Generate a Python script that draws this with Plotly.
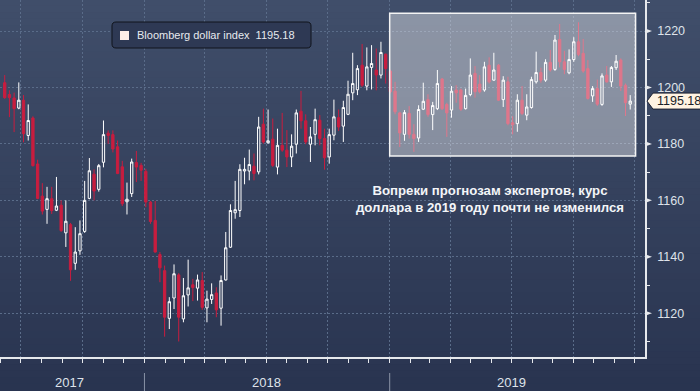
import plotly.graph_objects as go
import pandas as pd

# ---------------- data ----------------
FIRST_WEEK = "2017-06-07"
OPEN = [1201.7, 1197.5, 1196.3, 1192.7, 1195.5, 1183.0, 1189.2, 1172.9, 1161.5, 1156.8,
        1160.6, 1156.5, 1158.3, 1148.5, 1151.4, 1137.7, 1142.1, 1149.0, 1160.7, 1169.3,
        1163.9, 1173.5, 1183.8, 1183.3, 1179.0, 1171.9, 1159.5, 1162.4, 1173.4, 1172.4,
        1170.3, 1159.4, 1152.9, 1140.8, 1135.1, 1118.2, 1125.4, 1133.6, 1118.0, 1126.5,
        1130.1, 1128.9, 1131.6, 1121.9, 1124.9, 1127.2, 1121.8, 1131.8, 1143.4, 1155.6,
        1156.4, 1170.4, 1170.4, 1172.1, 1170.1, 1187.0, 1180.4, 1181.7, 1171.8, 1179.5,
        1177.8, 1175.4, 1179.9, 1191.6, 1188.2, 1179.9, 1183.4, 1188.4, 1181.9, 1175.4,
        1183.1, 1189.3, 1186.3, 1190.5, 1198.1, 1199.2, 1207.9, 1200.5, 1207.1, 1206.2,
        1204.4, 1211.8, 1205.8, 1198.7, 1191.0, 1183.4, 1190.8, 1183.4, 1182.1, 1192.3,
        1195.7, 1190.4, 1192.5, 1203.0, 1194.0, 1192.0, 1199.1, 1199.1, 1192.5, 1197.5,
        1205.0, 1201.2, 1199.1, 1207.9, 1202.6, 1207.9, 1195.7, 1202.0, 1187.5, 1187.2,
        1195.5, 1190.2, 1192.9, 1202.0, 1205.3, 1202.6, 1208.9, 1206.4, 1217.0, 1209.1,
        1205.2, 1209.9, 1216.2, 1212.1, 1206.7, 1197.0, 1199.6, 1194.0, 1204.4, 1202.0,
        1207.0, 1209.7, 1200.8, 1194.1]
HIGH = [1204.4, 1199.0, 1198.2, 1201.8, 1197.3, 1194.0, 1189.8, 1174.4, 1166.1, 1164.8,
        1164.8, 1168.3, 1160.0, 1160.0, 1152.0, 1150.5, 1152.9, 1166.9, 1175.0, 1171.0,
        1172.9, 1188.3, 1184.8, 1184.8, 1181.2, 1174.0, 1166.3, 1174.8, 1177.5, 1173.3,
        1171.2, 1159.8, 1159.8, 1141.7, 1136.9, 1125.7, 1137.3, 1134.2, 1132.5, 1139.0,
        1132.2, 1133.7, 1134.6, 1128.0, 1130.6, 1129.2, 1133.4, 1148.8, 1158.6, 1166.9,
        1172.8, 1175.1, 1178.0, 1176.6, 1189.6, 1192.5, 1192.2, 1189.0, 1185.4, 1191.0,
        1184.9, 1183.4, 1192.2, 1198.8, 1190.5, 1186.0, 1192.5, 1190.2, 1185.4, 1185.4,
        1195.7, 1192.2, 1195.3, 1202.4, 1212.3, 1207.9, 1215.4, 1214.2, 1215.0, 1213.8,
        1216.2, 1212.0, 1206.3, 1202.0, 1191.4, 1192.0, 1193.4, 1187.0, 1193.7, 1201.7,
        1197.6, 1194.9, 1206.2, 1203.4, 1194.6, 1200.5, 1200.8, 1199.6, 1199.6, 1210.3,
        1207.6, 1204.4, 1209.1, 1210.7, 1212.3, 1208.3, 1204.0, 1203.8, 1189.8, 1197.6,
        1200.5, 1197.6, 1203.8, 1212.7, 1207.0, 1210.0, 1213.3, 1218.6, 1222.5, 1213.0,
        1213.5, 1217.8, 1223.1, 1217.2, 1209.7, 1200.5, 1202.8, 1205.0, 1207.6, 1207.6,
        1211.5, 1210.3, 1201.4, 1197.3]
LOW = [1196.0, 1189.5, 1184.2, 1192.3, 1180.6, 1181.2, 1172.0, 1160.4, 1155.0, 1151.7,
       1155.2, 1156.2, 1148.8, 1143.5, 1131.5, 1135.4, 1140.7, 1148.5, 1160.4, 1160.0,
       1163.1, 1171.7, 1180.0, 1177.0, 1169.3, 1158.0, 1155.0, 1161.2, 1166.5, 1166.9,
       1157.6, 1151.7, 1141.5, 1131.0, 1111.7, 1114.4, 1121.5, 1110.0, 1116.8, 1122.4,
       1124.3, 1124.5, 1121.2, 1116.8, 1123.3, 1118.6, 1115.6, 1131.6, 1143.2, 1153.5,
       1154.1, 1165.7, 1167.1, 1167.1, 1169.2, 1180.1, 1180.1, 1171.8, 1169.2, 1177.2,
       1171.8, 1171.8, 1176.6, 1185.4, 1179.9, 1173.6, 1179.5, 1179.5, 1170.9, 1173.0,
       1181.3, 1184.6, 1180.7, 1190.2, 1195.5, 1197.3, 1200.2, 1199.0, 1199.3, 1199.0,
       1203.2, 1201.4, 1197.9, 1190.5, 1178.9, 1181.1, 1181.9, 1177.2, 1180.7, 1192.0,
       1189.6, 1184.9, 1192.0, 1192.0, 1182.5, 1189.3, 1194.6, 1191.7, 1192.2, 1196.9,
       1196.4, 1197.9, 1198.5, 1201.4, 1202.4, 1195.3, 1193.1, 1186.6, 1183.4, 1184.3,
       1190.2, 1188.4, 1192.5, 1201.4, 1201.7, 1202.0, 1205.6, 1205.9, 1207.1, 1204.7,
       1204.7, 1209.1, 1211.1, 1205.2, 1195.7, 1194.9, 1193.5, 1193.5, 1201.7, 1200.2,
       1206.2, 1198.8, 1189.9, 1192.2]
CLOSE = [1196.4, 1196.4, 1192.5, 1195.5, 1183.6, 1188.3, 1172.3, 1160.7, 1156.2, 1160.6,
         1156.4, 1158.0, 1149.3, 1152.6, 1135.4, 1141.7, 1148.2, 1160.0, 1170.5, 1163.3,
         1172.3, 1183.3, 1183.0, 1178.2, 1169.5, 1158.8, 1160.4, 1173.6, 1171.8, 1170.7,
         1159.4, 1152.5, 1141.7, 1136.1, 1118.6, 1124.1, 1134.0, 1118.6, 1126.2, 1129.0,
         1129.1, 1131.8, 1122.1, 1125.0, 1126.6, 1121.2, 1131.6, 1143.2, 1156.4, 1156.7,
         1171.0, 1171.0, 1172.7, 1169.5, 1186.0, 1180.7, 1181.1, 1172.4, 1179.5, 1177.8,
         1175.4, 1179.2, 1191.0, 1188.2, 1180.7, 1182.5, 1188.6, 1181.9, 1175.1, 1183.3,
         1189.6, 1186.0, 1192.9, 1197.6, 1201.4, 1206.7, 1200.8, 1207.3, 1208.5, 1204.4,
         1212.4, 1206.7, 1198.5, 1191.4, 1183.9, 1191.1, 1183.4, 1181.9, 1192.2, 1195.1,
         1190.4, 1193.6, 1201.4, 1192.5, 1191.0, 1198.7, 1198.1, 1192.3, 1197.2, 1204.4,
         1198.5, 1198.5, 1207.3, 1202.0, 1206.2, 1195.5, 1202.6, 1187.2, 1186.8, 1195.5,
         1190.8, 1193.1, 1202.8, 1205.3, 1202.6, 1208.9, 1206.2, 1216.8, 1209.1, 1206.4,
         1209.9, 1216.2, 1211.7, 1205.8, 1196.1, 1199.6, 1194.1, 1204.1, 1202.0, 1207.1,
         1209.3, 1200.5, 1194.6, 1195.18]

Y_TICKS = [1120, 1140, 1160, 1180, 1200, 1220]
YEAR_LABELS = ["2017", "2018", "2019"]
YEAR_LABEL_DATES = ["2017-09-12", "2018-07-02", "2019-07-02"]
YEAR_BOUNDARIES = ["2018-01-01", "2019-01-01"]
SERIES_NAME = "Bloomberg dollar index"
NOTE = "Вопреки прогнозам экспертов, курс<br>доллара в 2019 году почти не изменился"
HIGHLIGHT_X = ["2019-01-01", "2020-01-02"]
HIGHLIGHT_Y = [1175.7, 1226.3]
X_RANGE = ["2017-05-31", "2020-01-16"]
Y_RANGE = [1104.5, 1231.0]

# ---------------- figure ----------------
W, H = 700, 391
ML, MR, MT, MB = 0, 55, 0, 34
PW, PH = W - ML - MR, H - MT - MB

dates = pd.date_range(FIRST_WEEK, periods=len(CLOSE), freq="7D")
last = CLOSE[-1]

UP = "#ffffff"
DOWN = "#c81d3f"
GRID = "#5a6c89"
AXIS = "#e6e8ec"
TXT = "#dfe3ea"

fig = go.Figure()
fig.add_trace(go.Candlestick(
    x=dates, open=OPEN, high=HIGH, low=LOW, close=CLOSE,
    increasing=dict(line=dict(color=UP, width=1), fillcolor="rgba(0,0,0,0)"),
    decreasing=dict(line=dict(color=DOWN, width=1), fillcolor=DOWN),
    whiskerwidth=0, showlegend=False, name=SERIES_NAME,
))

shapes = []
# background gradient
top = (64, 78, 106)
bot = (41, 52, 80)
N = 60
y_top = 1.0 + MT / PH
y_bot = -MB / PH
for i in range(N):
    t = i / (N - 1)
    c = tuple(round(top[k] + (bot[k] - top[k]) * t) for k in range(3))
    ya = y_top - (y_top - y_bot) * i / N
    yb = y_top - (y_top - y_bot) * (i + 1) / N
    shapes.append(dict(type="rect", xref="paper", yref="paper", x0=-0.01, x1=W / PW + 0.01,
                       y0=yb - 0.002, y1=ya + 0.002, line=dict(width=0),
                       fillcolor="rgb(%d,%d,%d)" % c, layer="below"))

# highlight rectangle for 2019
shapes.append(dict(type="rect", xref="x", yref="y", x0=HIGHLIGHT_X[0], x1=HIGHLIGHT_X[1],
                   y0=HIGHLIGHT_Y[0], y1=HIGHLIGHT_Y[1],
                   fillcolor="rgba(255,255,255,0.40)", line=dict(color="#f4f4f4", width=1.5),
                   layer="above"))

# year separators below axis
for d in YEAR_BOUNDARIES:
    shapes.append(dict(type="line", xref="x", yref="paper", x0=d, x1=d,
                       y0=-16 / PH, y1=-40 / PH, line=dict(color="#8a93a6", width=1)))

# triangle major ticks on the right axis
px = 1.0 / PW
upp = (Y_RANGE[1] - Y_RANGE[0]) / PH
for v in Y_TICKS:
    shapes.append(dict(type="path", xref="paper", yref="y",
                       path="M 1,%f L %f,%f L 1,%f Z" % (v - 2.6 * upp, 1 + 7 * px, v, v + 2.6 * upp),
                       fillcolor=AXIS, line=dict(color=AXIS, width=0)))

# last price label with pointer
tip = 1 + 2 * px
bx0 = 1 + 8 * px
bx1 = 1 + 60 * px
yt = last + 8 * upp
yb_ = last - 8 * upp
shapes.append(dict(type="path", xref="paper", yref="y",
                   path="M %f,%f L %f,%f L %f,%f L %f,%f L %f,%f Z" % (
                       tip, last, bx0, yt, bx1, yt, bx1, yb_, bx0, yb_),
                   fillcolor="#fff3e2", line=dict(color="#1c2233", width=1)))

# legend box (rounded)
lx0, lx1 = 112 * px, 311 * px
ly0, ly1 = 1 - 48 / PH, 1 - 22 / PH
rx, ry = 4 * px, 4 / PH
shapes.append(dict(type="path", xref="paper", yref="paper",
                   path=("M %f,%f L %f,%f Q %f,%f %f,%f L %f,%f Q %f,%f %f,%f "
                         "L %f,%f Q %f,%f %f,%f L %f,%f Q %f,%f %f,%f Z") % (
                       lx0 + rx, ly1, lx1 - rx, ly1, lx1, ly1, lx1, ly1 - ry,
                       lx1, ly0 + ry, lx1, ly0, lx1 - rx, ly0,
                       lx0 + rx, ly0, lx0, ly0, lx0, ly0 + ry,
                       lx0, ly1 - ry, lx0, ly1, lx0 + rx, ly1),
                   fillcolor="#2e3954", line=dict(color="#10141c", width=1)))
# legend swatch
shapes.append(dict(type="rect", xref="paper", yref="paper",
                   x0=120 * px, x1=129 * px, y0=1 - 40 / PH, y1=1 - 31 / PH,
                   fillcolor="#fdeee8", line=dict(width=0)))

annotations = []
annotations.append(dict(xref="paper", yref="paper", x=135 * px, y=1 - 35.5 / PH,
                        xanchor="left", yanchor="middle", showarrow=False,
                        text="%s\u00a0\u00a0%.2f" % (SERIES_NAME, last),
                        font=dict(family="Liberation Sans, Arial", size=11, color="#e6e9ee")))
annotations.append(dict(xref="paper", yref="y", x=1 + 10 * px, y=last,
                        xanchor="left", yanchor="middle", showarrow=False,
                        text="%.2f" % last,
                        font=dict(family="Liberation Sans, Arial", size=12.5, color="#1a1d26")))
annotations.append(dict(xref="paper", yref="paper", x=490 * px, y=1 - 199 / PH,
                        xanchor="center", yanchor="middle", showarrow=False,
                        text="<b>%s</b>" % NOTE.replace("<br>", "</b><br><b>"),
                        font=dict(family="Liberation Sans, Arial", size=13.2, color="#f3f5f8")))
for lab, d in zip(YEAR_LABELS, YEAR_LABEL_DATES):
    annotations.append(dict(xref="x", yref="paper", x=d, y=-25 / PH,
                            xanchor="center", yanchor="middle", showarrow=False, text=lab,
                            font=dict(family="Liberation Sans, Arial", size=13, color=TXT)))

fig.update_layout(
    width=W, height=H, autosize=False,
    margin=dict(l=ML, r=MR, t=MT, b=MB, pad=0),
    paper_bgcolor="#36425e", plot_bgcolor="rgba(0,0,0,0)",
    shapes=shapes, annotations=annotations,
    xaxis=dict(
        type="date", range=X_RANGE, rangeslider=dict(visible=False),
        showgrid=True, gridcolor=GRID, griddash="2px,2px", gridwidth=1,
        dtick="M3", tick0="2017-01-01", ticks="outside", ticklen=4, tickcolor=AXIS,
        showticklabels=False, showline=True, linecolor=AXIS, linewidth=1.5,
        minor=dict(dtick="M1", tick0="2017-01-01", ticks="outside", ticklen=4,
                   tickcolor=AXIS, showgrid=False),
        zeroline=False, fixedrange=True,
    ),
    yaxis=dict(
        side="right", range=Y_RANGE, tickvals=Y_TICKS,
        showgrid=True, gridcolor=GRID, griddash="2px,2px", gridwidth=1,
        ticks="outside", ticklen=8, tickcolor="rgba(0,0,0,0)",
        tickfont=dict(family="Liberation Sans, Arial", size=12.5, color=TXT),
        showline=True, linecolor=AXIS, linewidth=1.5,
        minor=dict(dtick=10, tick0=1100, ticks="outside", ticklen=3, tickcolor=AXIS,
                   showgrid=False),
        zeroline=False, fixedrange=True,
    ),
    hovermode=False,
)

fig.write_html(
    "out.html",
    config={"displayModeBar": False},
    post_script="document.body.style.margin='0';document.body.style.padding='0';"
                "document.body.style.overflow='hidden';",
)
